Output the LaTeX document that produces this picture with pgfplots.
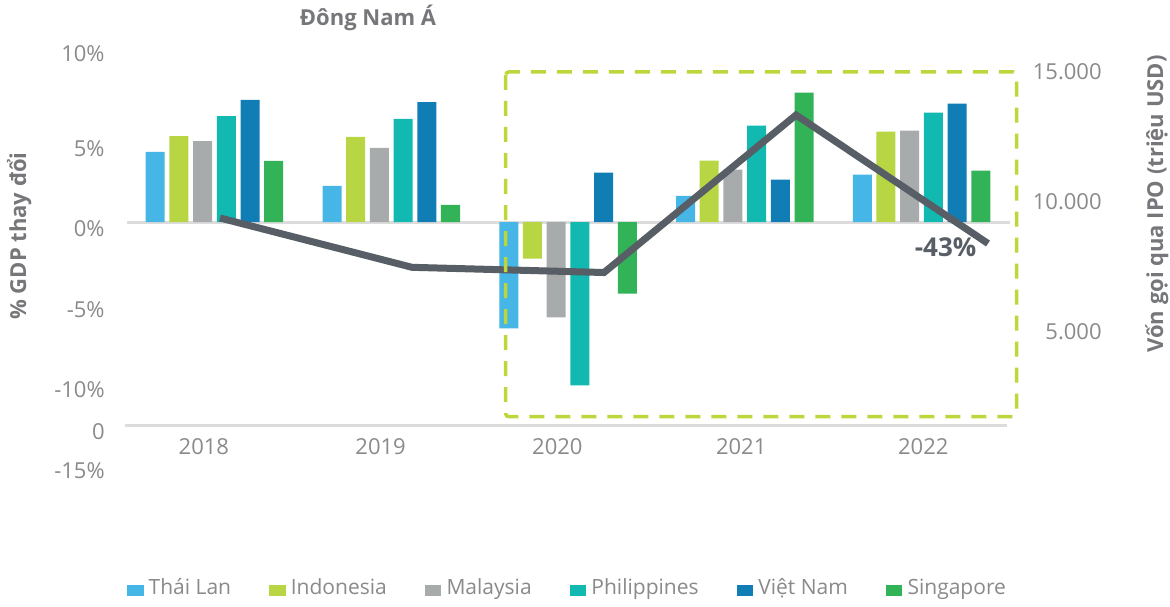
\documentclass[border=0pt]{standalone}
\usepackage{pgfplots}
\pgfplotsset{compat=1.18}
\usepackage{fontspec}
\setmainfont{Open Sans}
\definecolor{cthai}{HTML}{45B6E6}
\definecolor{cindo}{HTML}{B8D543}
\definecolor{cmalay}{HTML}{A7ABAC}
\definecolor{cphil}{HTML}{11B9B0}
\definecolor{cviet}{HTML}{107DB4}
\definecolor{csing}{HTML}{33B357}
\definecolor{linegray}{HTML}{575E66}
\definecolor{dashlime}{HTML}{BDD63C}
\definecolor{rulegray}{HTML}{DCDCDC}
\definecolor{tickgray}{HTML}{8A8A8A}
\definecolor{titlegray}{HTML}{76777A}
\begin{document}
\begin{tikzpicture}
\path[use as bounding box] (0,0) rectangle (585pt,303pt);
% ---------- bars ----------
\begin{axis}[
  at={(63.5pt,67.225pt)}, anchor=south west,
  scale only axis, width=441.5pt, height=217.35pt,
  xmin=2017.505, xmax=2022.5007, ymin=-15.5, ymax=11.5,
  axis line style={draw=none}, major tick length=0pt, tick style={draw=none},
  clip=false,
  ybar, bar width=0.1075,
  xtick={2017.94,2018.94,2019.94,2020.98,2022.01},
  xticklabels={2018,2019,2020,2021,2022},
  ytick={10.9,5,0,-5,-10,-12.6,-15},
  yticklabels={10\%,5\%,0\%,-5\%,-10\%,0,-15\%},
  yticklabel style={anchor=east, inner sep=0pt, xshift=-11pt, yshift=-3.5pt, font=\fontsize{11}{13}\selectfont, text=tickgray},
  xticklabel style={anchor=center, inner sep=0pt, yshift=12.5pt, font=\fontsize{11}{13}\selectfont, text=tickgray},
  legend columns=6,
  legend style={draw=none, at={(0.4977,-0.268)}, anchor=center,
    font=\fontsize{10.5}{12.5}\selectfont, text=tickgray,
    nodes={inner sep=0pt},
    /tikz/every odd column/.append style={column sep=2.6pt},
    /tikz/every even column/.append style={column sep=19pt}},
  legend image code/.code={\fill[#1,draw=none] (0pt,-4.2pt) rectangle (8.25pt,1.6pt);},
]
\draw[rulegray, line width=1.5pt] (axis cs:2017.505,0) -- (axis cs:2022.5007,0);
\draw[rulegray, line width=1.5pt] (axis cs:2017.495,-12.61) -- (axis cs:2022.483,-12.61);
\addplot[fill=cthai, draw=none, bar shift=-0.3352] coordinates {(2018,4.35) (2019,2.24) (2020,-6.61) (2021,1.63) (2022,2.94)};
\addplot[fill=cindo, draw=none, bar shift=-0.2011] coordinates {(2018,5.34) (2019,5.28) (2020,-2.28) (2021,3.81) (2022,5.61)};
\addplot[fill=cmalay, draw=none, bar shift=-0.0670] coordinates {(2018,5.03) (2019,4.60) (2020,-5.93) (2021,3.25) (2022,5.67)};
\addplot[fill=cphil, draw=none, bar shift=0.0670] coordinates {(2018,6.58) (2019,6.40) (2020,-10.15) (2021,5.98) (2022,6.79)};
\addplot[fill=cviet, draw=none, bar shift=0.2011] coordinates {(2018,7.58) (2019,7.45) (2020,3.06) (2021,2.63) (2022,7.35)};
\addplot[fill=csing, draw=none, bar shift=0.3352] coordinates {(2018,3.79) (2019,1.06) (2020,-4.45) (2021,8.04) (2022,3.19)};
\legend{Thái Lan, Indonesia, Malaysia, Philippines, Việt Nam, Singapore}
\end{axis}
% ---------- IPO line ----------
\begin{axis}[
  at={(63.5pt,67.225pt)}, anchor=south west,
  scale only axis, width=441.5pt, height=217.35pt,
  xmin=2017.515625, xmax=2022.114583, ymin=-367.3, ymax=16351.9,
  axis line style={draw=none}, major tick length=0pt, tick style={draw=none},
  clip=false, scaled y ticks=false,
  xtick=\empty,
  ytick={5000,10000,15000},
  yticklabels={5.000,10.000,15.000},
  yticklabel pos=right,
  yticklabel style={anchor=east, inner sep=0pt, xshift=46pt, font=\fontsize{11}{13}\selectfont, text=tickgray},
]
\addplot[color=linegray, line width=3.5pt, mark=none] coordinates {(2018,9385) (2019,7488) (2020,7288) (2021,13346) (2022,8404)};
\end{axis}
% ---------- highlight box and texts ----------
\draw[dashlime, line width=1.75pt, dash pattern=on 7.5pt off 5.5pt, rounded corners=1.5pt] (252.85pt,267pt) rectangle (508.35pt,94.65pt);
\node[font=\bfseries\fontsize{13}{15}\selectfont, text=linegray, inner sep=0pt] at (472.75pt,179.5pt) {-43\%};
\node[font=\bfseries\fontsize{11}{13}\selectfont, text=titlegray, anchor=base, inner sep=0pt] at (184pt,290pt) {Đông Nam Á};
\node[font=\bfseries\fontsize{11}{13}\selectfont, text=titlegray, anchor=base, rotate=90, inner sep=0pt] at (13pt,185pt) {\% GDP thay đổi};
\node[font=\bfseries\fontsize{11}{13}\selectfont, text=titlegray, anchor=base, rotate=90, inner sep=0pt] at (581.5pt,201pt) {Vốn gọi qua IPO (triệu USD)};
\end{tikzpicture}
\end{document}
